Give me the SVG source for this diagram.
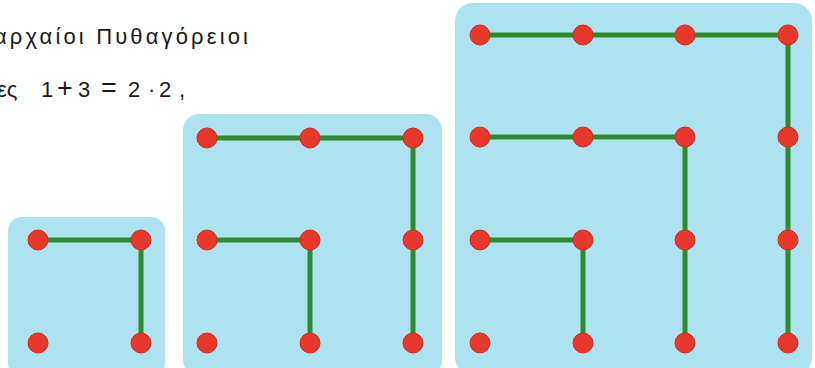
<svg xmlns="http://www.w3.org/2000/svg" width="815" height="368" viewBox="0 0 815 368">
<style>
.bg{fill:#ade3f1}
.ln{stroke:#2e8a2c;stroke-width:5;fill:none;stroke-linecap:butt;stroke-linejoin:miter}
.dot{fill:#e8382c;stroke:#d22a20;stroke-width:1}
.t{font-family:"Liberation Sans",Arial,sans-serif;font-size:22px;fill:#1a1a1a}
.op{font-size:27px}
</style>
<rect width="815" height="368" fill="#ffffff"/>
<g id="text">
<text class="t" x="-6" y="44" textLength="254" lengthAdjust="spacing">αρχαίοι Πυθαγόρειοι</text>
<text class="t" y="97"><tspan x="-3">ες</tspan><tspan x="41">1</tspan><tspan class="op" x="57">+</tspan><tspan x="78">3</tspan><tspan class="op" x="101">=</tspan><tspan x="128">2</tspan><tspan x="148">·</tspan><tspan x="159">2</tspan><tspan x="179">,</tspan></text>
</g>
<g id="box1"><rect class="bg" x="8" y="217" width="157" height="160" rx="14"/></g>
<g id="box2"><rect class="bg" x="183" y="114" width="259" height="262" rx="16"/></g>
<g id="box3"><rect class="bg" x="455" y="3" width="357" height="372" rx="18"/></g>
<g id="connectors">
<polyline class="ln" points="38,240 141,240 141,343"/>
<polyline class="ln" points="207,240 310,240 310,343"/>
<polyline class="ln" points="207,138 413,138 413,343"/>
<polyline class="ln" points="480,240 583,240 583,343"/>
<polyline class="ln" points="480,137 685,137 685,343"/>
<polyline class="ln" points="480,35 788,35 788,343"/>
</g>
<g id="dots1">
<circle class="dot" cx="38" cy="240" r="10"/><circle class="dot" cx="141" cy="240" r="10"/>
<circle class="dot" cx="38" cy="343" r="10"/><circle class="dot" cx="141" cy="343" r="10"/>
</g>
<g id="dots2">
<circle class="dot" cx="207" cy="138" r="10"/><circle class="dot" cx="310" cy="138" r="10"/><circle class="dot" cx="413" cy="138" r="10"/>
<circle class="dot" cx="207" cy="240" r="10"/><circle class="dot" cx="310" cy="240" r="10"/><circle class="dot" cx="413" cy="240" r="10"/>
<circle class="dot" cx="207" cy="343" r="10"/><circle class="dot" cx="310" cy="343" r="10"/><circle class="dot" cx="413" cy="343" r="10"/>
</g>
<g id="dots3">
<circle class="dot" cx="480" cy="35" r="10"/><circle class="dot" cx="583" cy="35" r="10"/><circle class="dot" cx="685" cy="35" r="10"/><circle class="dot" cx="788" cy="35" r="10"/>
<circle class="dot" cx="480" cy="137" r="10"/><circle class="dot" cx="583" cy="137" r="10"/><circle class="dot" cx="685" cy="137" r="10"/><circle class="dot" cx="788" cy="137" r="10"/>
<circle class="dot" cx="480" cy="240" r="10"/><circle class="dot" cx="583" cy="240" r="10"/><circle class="dot" cx="685" cy="240" r="10"/><circle class="dot" cx="788" cy="240" r="10"/>
<circle class="dot" cx="480" cy="343" r="10"/><circle class="dot" cx="583" cy="343" r="10"/><circle class="dot" cx="685" cy="343" r="10"/><circle class="dot" cx="788" cy="343" r="10"/>
</g>
</svg>
